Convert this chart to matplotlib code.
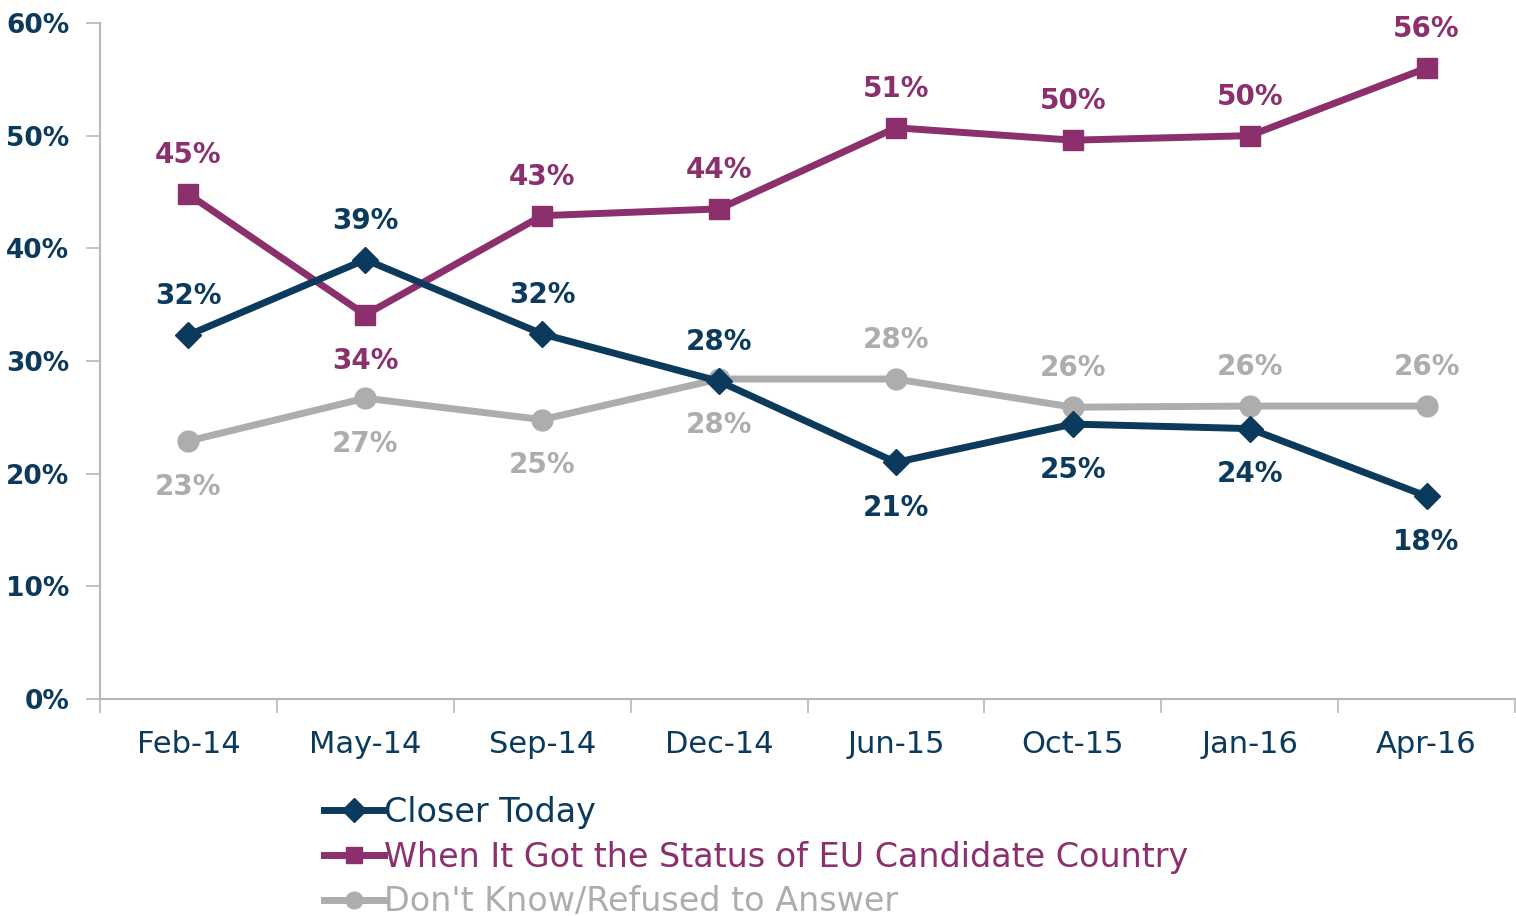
import matplotlib
matplotlib.use("Agg")
import matplotlib.pyplot as plt

periods = ["Feb-14", "May-14", "Sep-14", "Dec-14", "Jun-15", "Oct-15", "Jan-16", "Apr-16"]
closer = [32.3, 39.0, 32.4, 28.2, 21.0, 24.4, 24.0, 18.0]
candidate = [44.8, 34.1, 42.9, 43.5, 50.7, 49.6, 50.0, 56.0]
dont_know = [22.9, 26.7, 24.8, 28.4, 28.4, 25.9, 26.0, 26.0]

closer_lbl = ["32%", "39%", "32%", "28%", "21%", "25%", "24%", "18%"]
candidate_lbl = ["45%", "34%", "43%", "44%", "51%", "50%", "50%", "56%"]
dont_know_lbl = ["23%", "27%", "25%", "28%", "28%", "26%", "26%", "26%"]

# +1 label above the point, -1 below
closer_side = [1, 1, 1, 1, -1, -1, -1, -1]
candidate_side = [1, -1, 1, 1, 1, 1, 1, 1]
dont_know_side = [-1, -1, -1, -1, 1, 1, 1, 1]

NAVY = "#0b3a5c"
PURPLE = "#8b2f6d"
GRAY = "#adadad"
AXIS = "#b4b8bf"

plt.rcParams["font.family"] = ["DejaVu Sans"]

fig = plt.figure(figsize=(15.16, 9.16), dpi=100)
ax = fig.add_axes([100 / 1516, 1 - 699 / 916, 1415 / 1516, 676 / 916])

x = list(range(len(periods)))
series = [
    (closer, closer_lbl, closer_side, NAVY, "D", 13, "Closer Today"),
    (candidate, candidate_lbl, candidate_side, PURPLE, "s", 15, "When It Got the Status of EU Candidate Country"),
    (dont_know, dont_know_lbl, dont_know_side, GRAY, "o", 15, "Don't Know/Refused to Answer"),
]
# draw gray first so the others sit on top, like the original
for vals, lbls, sides, col, mk, ms, name in [series[2], series[1], series[0]]:
    ax.plot(x, vals, color=col, lw=5, marker=mk, ms=ms, label=name, zorder=3)
    for xi, v, t, s in zip(x, vals, lbls, sides):
        dy = 28 if s > 0 else -33
        ax.annotate(t, (xi, v), xytext=(0, dy), textcoords="offset points",
                    ha="center", va="center", fontsize=20, fontweight="bold",
                    color=col)

ax.set_xlim(-0.5, len(periods) - 0.5)
ax.set_ylim(0, 60)
ax.set_yticks(range(0, 61, 10))
ax.set_yticklabels([f"{v}%" for v in range(0, 61, 10)], fontsize=19,
                   fontweight="bold", color=NAVY)
ax.set_xticks(x)
ax.set_xticklabels(periods, fontsize=22, color=NAVY)
ax.set_xticks([i - 0.5 for i in range(len(periods) + 1)], minor=True)
ax.tick_params(axis="x", which="major", length=0, pad=22)
ax.tick_params(axis="x", which="minor", length=10, color=AXIS, width=1.2)
ax.tick_params(axis="y", length=10, color=AXIS, width=1.2, pad=12)
for sp in ["top", "right"]:
    ax.spines[sp].set_visible(False)
for sp in ["left", "bottom"]:
    ax.spines[sp].set_color(AXIS)
    ax.spines[sp].set_linewidth(1.5)

handles, labels = ax.get_legend_handles_labels()
order = [2, 1, 0]
leg = fig.legend([handles[i] for i in order], [labels[i] for i in order],
                 loc="upper left", bbox_to_anchor=(324 / 1516, 1 - 796 / 916),
                 frameon=False, fontsize=24, handlelength=1.8, handletextpad=0.0,
                 labelspacing=0.35, borderaxespad=0, borderpad=0)
for txt, col in zip(leg.get_texts(), [NAVY, PURPLE, GRAY]):
    txt.set_color(col)
for h in leg.legend_handles:
    h.set_markersize(12)

fig.savefig("out.png", dpi=100)
